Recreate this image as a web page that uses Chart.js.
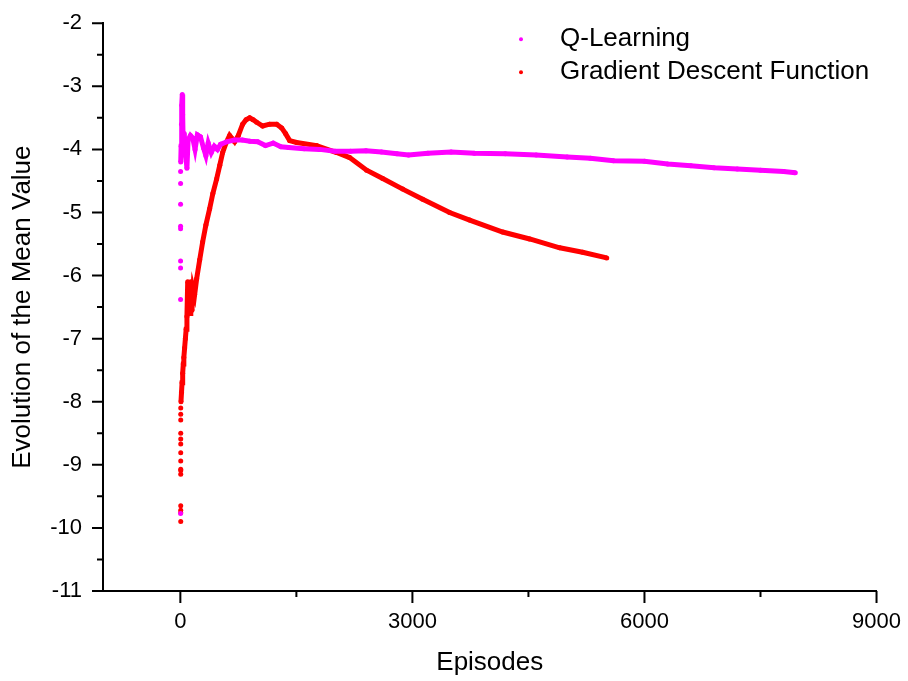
<!DOCTYPE html>
<html>
<head>
<meta charset="utf-8">
<script src="https://cdn.jsdelivr.net/npm/chart.js@4.4.1/dist/chart.umd.min.js"></script>
<style>
  html, body { margin: 0; padding: 0; background: #fff; }
</style>
</head>
<body>
<canvas id="chart" width="908" height="681"></canvas>
<script>
// values
const qSpikeEpisodes = [3, 3, 3, 3, 3, 3, 3, 3, 3];
const qSpikeValues = [-9.77, -6.38, -5.88, -5.77, -5.26, -5.22, -4.87, -4.54, -4.35];

const qEpisodes = [5, 10, 15, 20, 25, 30, 35, 40, 50, 70, 85, 100, 130, 160, 190, 220, 260, 300, 330,
  360, 400, 440, 480, 520, 600, 700, 800, 900, 1000, 1100, 1200, 1300, 1400, 1600, 1800, 2000, 2200,
  2400, 2600, 2800, 2950, 3200, 3500, 3800, 4200, 4600, 5000, 5300, 5600, 6000, 6300, 6600, 6900,
  7200, 7500, 7800, 7950];
const qValues = [-4.2, -3.95, -3.6, -3.3, -3.13, -3.45, -3.8, -4.0, -3.75, -4.1, -4.3, -3.85, -3.78,
  -3.82, -4.0, -3.77, -3.8, -3.98, -4.1, -3.9, -4.05, -3.95, -4.0, -3.92, -3.88, -3.85, -3.85, -3.87,
  -3.88, -3.94, -3.9, -3.96, -3.97, -3.99, -4.0, -4.03, -4.03, -4.02, -4.04, -4.07, -4.09, -4.06,
  -4.04, -4.06, -4.07, -4.09, -4.12, -4.14, -4.18, -4.19, -4.23, -4.26, -4.29, -4.31, -4.33, -4.35, -4.37];

const gdSpikeEpisodes = [5, 5, 5, 5, 5, 5, 5, 5, 5, 5, 5, 5, 5, 5, 5];
const gdSpikeValues = [-9.9, -9.76, -9.72, -9.65, -9.15, -9.09, -9.07, -8.94, -8.81, -8.67, -8.59,
  -8.5, -8.29, -8.2, -8.1];

const gdEpisodes = [8, 15, 22, 30, 38, 45, 55, 65, 75, 85, 95, 105, 115, 125, 135, 150, 165, 185, 211,
  250, 288, 330, 379, 420, 469, 510, 547, 590, 637, 670, 702, 750, 805, 850, 896, 940, 987, 1064, 1154,
  1245, 1310, 1360, 1413, 1503, 1762, 2020, 2188, 2408, 2616, 2875, 3133, 3481, 3740, 4167, 4516,
  4904, 5200, 5512];
const gdValues = [-8.0, -7.85, -7.7, -7.55, -7.4, -7.3, -7.15, -7.0, -6.85, -6.65, -6.1, -6.55, -6.15,
  -6.6, -6.1, -6.55, -6.2, -6.3, -6.05, -5.75, -5.47, -5.2, -4.94, -4.7, -4.47, -4.25, -4.05, -3.9,
  -3.78, -3.83, -3.88, -3.78, -3.6, -3.53, -3.5, -3.53, -3.57, -3.63, -3.6, -3.6, -3.66, -3.75, -3.86,
  -3.89, -3.94, -4.05, -4.13, -4.33, -4.46, -4.63, -4.79, -5.0, -5.12, -5.31, -5.42, -5.56, -5.63, -5.72];

const xMajorTicks = [0, 3000, 6000, 9000];
const xMinorTicks = [1500, 4500, 7500];
const yMajorTicks = [-11, -10, -9, -8, -7, -6, -5, -4, -3, -2];
const yMinorTicks = [-10.5, -9.5, -8.5, -7.5, -6.5, -5.5, -4.5, -3.5, -2.5];

const FONT = '"Liberation Sans", Arial, sans-serif';
const MAGENTA = '#ff00ff';
const RED = '#ff0000';

function pairs(xs, ys) {
  return xs.map((x, i) => ({ x: x, y: ys[i] }));
}

// short minor ticks, longer major ticks, pointing out of the plot
const tickMarks = {
  id: 'tickMarks',
  afterDraw(chart) {
    const ctx = chart.ctx;
    const xs = chart.scales.x, ys = chart.scales.y;
    ctx.save();
    ctx.strokeStyle = '#000';
    ctx.lineWidth = 2;
    ctx.beginPath();
    xMajorTicks.forEach(v => { const p = xs.getPixelForValue(v); ctx.moveTo(p, xs.top); ctx.lineTo(p, xs.top + 12); });
    xMinorTicks.forEach(v => { const p = xs.getPixelForValue(v); ctx.moveTo(p, xs.top); ctx.lineTo(p, xs.top + 6); });
    yMajorTicks.forEach(v => { const p = ys.getPixelForValue(v); ctx.moveTo(ys.right, p); ctx.lineTo(ys.right - 11, p); });
    yMinorTicks.forEach(v => { const p = ys.getPixelForValue(v); ctx.moveTo(ys.right, p); ctx.lineTo(ys.right - 6, p); });
    ctx.stroke();
    ctx.restore();
  }
};

// legend drawn inside the plot, top right
const insideLegend = {
  id: 'insideLegend',
  afterDraw(chart) {
    const ctx = chart.ctx, area = chart.chartArea;
    const items = chart.data.datasets.filter(d => d.inLegend);
    ctx.save();
    items.forEach((d, i) => {
      const cy = area.top + 16 + i * 33;
      ctx.fillStyle = d.backgroundColor;
      ctx.beginPath();
      ctx.arc(area.left + 418, cy, 2, 0, Math.PI * 2);
      ctx.fill();
      ctx.fillStyle = '#000';
      ctx.font = '26px ' + FONT;
      ctx.textBaseline = 'middle';
      ctx.textAlign = 'left';
      ctx.fillText(d.label, area.left + 457, cy);
    });
    ctx.restore();
  }
};

new Chart(document.getElementById('chart'), {
  type: 'scatter',
  data: {
    datasets: [
      {
        label: 'Q-Learning', inLegend: true,
        data: pairs(qEpisodes, qValues),
        showLine: true, borderColor: MAGENTA, backgroundColor: MAGENTA,
        borderWidth: 5, pointRadius: 2.5, pointBorderWidth: 0, tension: 0
      },
      {
        label: 'Q-Learning early',
        data: pairs(qSpikeEpisodes, qSpikeValues),
        showLine: false, backgroundColor: MAGENTA, pointRadius: 2.5, pointBorderWidth: 0
      },
      {
        label: 'Gradient Descent Function', inLegend: true,
        data: pairs(gdEpisodes, gdValues),
        showLine: true, borderColor: RED, backgroundColor: RED,
        borderWidth: 5, pointRadius: 2.5, pointBorderWidth: 0, tension: 0
      },
      {
        label: 'Gradient Descent early',
        data: pairs(gdSpikeEpisodes, gdSpikeValues),
        showLine: false, backgroundColor: RED, pointRadius: 2.5, pointBorderWidth: 0
      }
    ]
  },
  options: {
    responsive: false,
    animation: false,
    layout: { padding: { top: 20, right: 31, left: 0, bottom: 0 } },
    plugins: {
      legend: { display: false },
      tooltip: { enabled: false }
    },
    scales: {
      x: {
        type: 'linear',
        min: -1000, max: 9000,
        afterBuildTicks: s => { s.ticks = xMajorTicks.concat(xMinorTicks).sort((a, b) => a - b).map(v => ({ value: v })); },
        afterFit: s => { s.height = 90; },
        grid: { display: true, drawOnChartArea: false, tickLength: 11, tickColor: 'rgba(0,0,0,0)' },
        border: { display: true, color: '#000', width: 2 },
        ticks: {
          autoSkip: false, maxRotation: 0, padding: 7, color: '#000',
          font: { family: FONT, size: 22 },
          callback: v => xMajorTicks.includes(v) ? String(v) : ''
        },
        title: {
          display: true, text: 'Episodes', color: '#000',
          font: { family: FONT, size: 26 },
          padding: { top: 0, bottom: 3 }
        }
      },
      y: {
        type: 'linear',
        min: -11, max: -2,
        afterBuildTicks: s => { s.ticks = yMajorTicks.concat(yMinorTicks).sort((a, b) => a - b).map(v => ({ value: v })); },
        afterFit: s => { s.width = 103; },
        grid: { display: true, drawOnChartArea: false, tickLength: 11, tickColor: 'rgba(0,0,0,0)' },
        border: { display: true, color: '#000', width: 2 },
        ticks: {
          autoSkip: false, padding: 10, color: '#000',
          font: { family: FONT, size: 22 },
          callback: v => yMajorTicks.includes(v) ? String(v) : ''
        },
        title: {
          display: true, text: 'Evolution of the Mean Value', color: '#000',
          font: { family: FONT, size: 26 },
          padding: { top: 7, bottom: 0 }
        }
      }
    }
  },
  plugins: [tickMarks, insideLegend]
});
</script>
</body>
</html>
